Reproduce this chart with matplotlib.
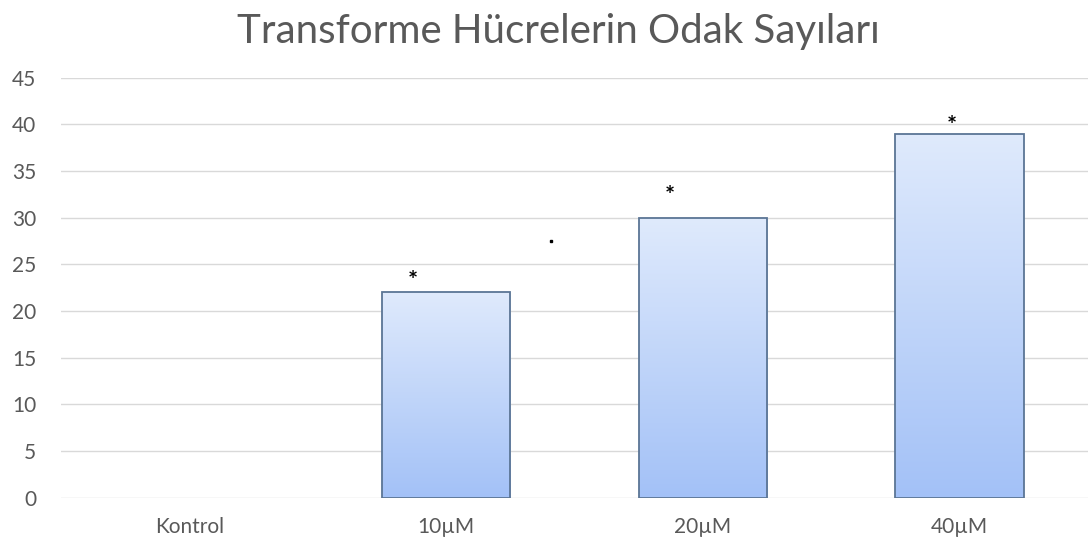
import numpy as np
import matplotlib

matplotlib.use("Agg")
import matplotlib.pyplot as plt
from matplotlib.colors import LinearSegmentedColormap

# --- data ---
categories = ["Kontrol", "10µM", "20µM", "40µM"]
values = [0, 22, 30, 39]
# significance marks (the stars sit a bit left of the bar centres)
star_x = [None, 0.87, 1.87, 2.97]
star_y = [None, 23.2, 32.3, 39.8]
yticks = [0, 5, 10, 15, 20, 25, 30, 35, 40, 45]

plt.rcParams["font.family"] = ["Lato", "DejaVu Sans"]
text_color = "#595959"

fig = plt.figure(figsize=(10.9, 5.44), dpi=100)
ax = fig.add_axes([0.056, 0.085, 0.942, 0.772])

x = np.arange(len(categories))
edges = ["#5b7595" if v > 0 else "none" for v in values]
bars = ax.bar(x, values, width=0.5, color="none", edgecolor=edges, linewidth=1.3, zorder=3)

# vertical gradient fill, light at top, deeper blue at bottom
cmap = LinearSegmentedColormap.from_list("grad", ["#a3c1f7", "#dfeafc"])
grad = np.linspace(0, 1, 256).reshape(-1, 1)
for b in bars:
    if b.get_height() <= 0:
        continue
    x0, w, h = b.get_x(), b.get_width(), b.get_height()
    im = ax.imshow(grad, cmap=cmap, aspect="auto", origin="lower",
                   extent=(x0, x0 + w, 0, h), zorder=2)
    im.set_clip_path(b)

for sx, sy in zip(star_x, star_y):
    if sy is not None:
        ax.text(sx, sy, "*", ha="center", va="center", fontsize=17,
                fontweight="bold", color="black", zorder=4)

# stray dot between 10µM and 20µM
ax.plot([1.41], [27.5], marker="s", markersize=2, color="black", zorder=4)

ax.set_xlim(-0.5, len(categories) - 0.5)
ax.set_ylim(0, 45)
ax.set_yticks(yticks)
ax.set_xticks(x)
ax.set_xticklabels(categories)
ax.grid(axis="y", color="#d9d9d9", linewidth=1.0, zorder=0)
ax.set_axisbelow(True)
for s in ax.spines.values():
    s.set_visible(False)
ax.tick_params(length=0, labelsize=15, colors=text_color)
ax.tick_params(axis="x", pad=14)
ax.tick_params(axis="y", pad=18)

fig.text(0.512, 0.942, "Transforme Hücrelerin Odak Sayıları", ha="center", va="center",
         fontsize=29, color=text_color)

fig.savefig("out.png", dpi=100)
